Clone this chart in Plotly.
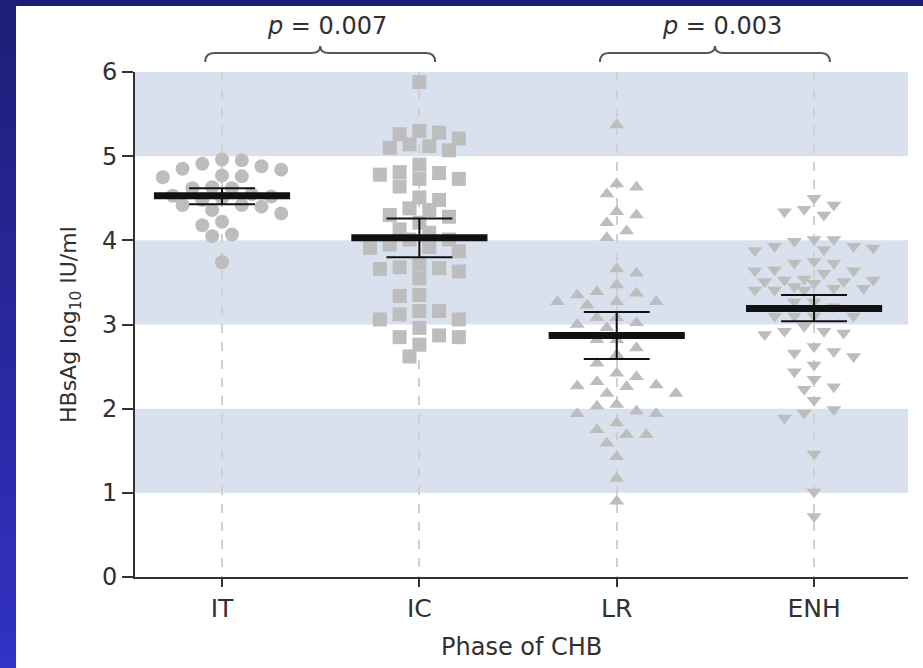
import plotly.graph_objects as go

# ---------------- data ----------------
categories = ["IT", "IC", "LR", "ENH"]

it_vals = [4.95, 4.88, 4.84, 4.85, 4.91, 4.96, 4.76, 4.77, 4.75, 4.63, 4.62, 4.62,
           4.55, 4.53, 4.52, 4.50, 4.48, 4.42, 4.40, 4.32, 4.36, 4.42, 4.22, 4.18,
           4.07, 4.05, 3.74]
ic_vals = [5.88, 5.28, 5.30, 5.21, 5.26, 5.12, 5.07, 5.10, 5.14, 4.90, 4.81, 4.73,
           4.73, 4.78, 4.80, 4.64, 4.48, 4.51, 4.38, 4.30, 4.36, 4.28, 4.21, 4.13,
           4.09, 4.01, 3.95, 4.01, 3.92, 3.87, 3.91, 3.72, 3.66, 3.63, 3.67, 3.68,
           3.55, 3.34, 3.35, 3.16, 3.16, 3.12, 3.06, 3.06, 2.96, 2.85, 2.87, 2.85,
           2.76, 2.62]
lr_vals = [5.37, 4.67, 4.63, 4.55, 4.30, 4.34, 4.21, 4.11, 4.03, 3.61, 3.66, 3.47,
           3.37, 3.35, 3.39, 3.27, 3.27, 3.27, 3.23, 3.08, 3.08, 3.00, 3.02, 2.96,
           2.82, 2.82, 2.72, 2.64, 2.54, 2.42, 2.38, 2.27, 2.32, 2.28, 2.26, 2.18,
           2.18, 2.03, 2.05, 1.94, 1.94, 1.97, 1.83, 1.75, 1.69, 1.69, 1.59, 1.43,
           1.17, 0.90]
enh_vals = [4.50, 4.42, 4.34, 4.30, 4.37, 4.01, 3.93, 4.01, 3.93, 3.99, 3.91, 3.88,
            3.89, 3.75, 3.73, 3.73, 3.64, 3.61, 3.65, 3.64, 3.54, 3.51, 3.49, 3.51,
            3.53, 3.53, 3.41, 3.41, 3.45, 3.43, 3.43, 3.41, 3.27, 3.21, 3.27, 3.10,
            3.10, 3.10, 3.10, 2.98, 2.92, 2.88, 2.90, 2.92, 2.68, 2.62, 2.66, 2.74,
            2.52, 2.44, 2.35, 2.23, 2.26, 2.10, 1.95, 1.89, 1.99, 1.46, 1.01, 0.72]

means = [4.53, 4.03, 2.87, 3.19]
sem_hi = [4.62, 4.26, 3.15, 3.35]
sem_lo = [4.43, 3.80, 2.59, 3.04]

comparisons = [(0, 1, "0.007"), (2, 3, "0.003")]

y_ticks = [0, 1, 2, 3, 4, 5, 6]
bands = [(1, 2), (3, 4), (5, 6)]

# ---------------- style / layout constants ----------------
W, H = 923, 668
ML, MR, MT, MB = 135, 15, 72, 91
PW, PH = W - ML - MR, H - MT - MB
XR = [-0.441, 3.476]
YR = [0, 6]
SLOT = 0.05          # horizontal slot width (category units)
COLL = 14.0          # collision distance in px for the swarm layout
MAXS = 6
FONT = "DejaVu Sans, Verdana, sans-serif"
TXT = "#303030"
GREY = "#BDBDBD"

X_PX = PW / (XR[1] - XR[0])
Y_PX = PH / (YR[1] - YR[0])


def px2paper_x(px):
    return (px - ML) / PW


def py2paper_y(py):
    return (H - MB - py) / PH


def swarm_offsets(vals):
    """Greedy beeswarm on a quantised horizontal grid."""
    order = sorted(range(len(vals)), key=lambda i: -vals[i])
    placed = []
    offs = [0] * len(vals)
    sign = 1
    sx = SLOT * X_PX
    for i in order:
        y = vals[i] * Y_PX
        cands = [0]
        for k in range(1, MAXS + 1):
            cands += [sign * k, -sign * k]
        best, best_d = None, -1
        for c in cands:
            dmin = min([((c - s) * sx) ** 2 + (y - yy) ** 2 for s, yy in placed] or [1e9]) ** 0.5
            if dmin >= COLL:
                best = c
                break
            if dmin > best_d:
                best_d, best = dmin, c
        offs[i] = best
        placed.append((best, y))
        if best != 0:
            sign = -sign
    return offs


fig = go.Figure()

groups = [(it_vals, "circle", 14), (ic_vals, "square", 14),
          (lr_vals, "triangle-up", 13), (enh_vals, "triangle-down", 13)]
for ci, (vals, sym, size) in enumerate(groups):
    offs = swarm_offsets(vals)
    fig.add_trace(go.Scatter(
        x=[ci + o * SLOT for o in offs], y=vals, mode="markers",
        marker=dict(symbol=sym, size=size, color=GREY, line=dict(width=0)),
        showlegend=False, hoverinfo="y"))

# mean lines
for ci, m in enumerate(means):
    fig.add_trace(go.Scatter(x=[ci - 0.345, ci + 0.345], y=[m, m], mode="lines",
                             line=dict(color="#111111", width=7),
                             showlegend=False, hoverinfo="skip"))
# SEM whiskers
for ci in range(len(categories)):
    cw = 0.167
    xs = [ci, ci, None, ci - cw, ci + cw, None, ci - cw, ci + cw]
    ys = [sem_lo[ci], sem_hi[ci], None, sem_hi[ci], sem_hi[ci], None, sem_lo[ci], sem_lo[ci]]
    fig.add_trace(go.Scatter(x=xs, y=ys, mode="lines",
                             line=dict(color="#111111", width=2),
                             showlegend=False, hoverinfo="skip"))

shapes = []
# blue frame (top strip + left gradient strip)
nstrip = 40
c0 = (30, 30, 120)
c1 = (50, 50, 196)
for k in range(nstrip):
    t = k / (nstrip - 1)
    col = "rgb(%d,%d,%d)" % tuple(int(a + (b - a) * t) for a, b in zip(c0, c1))
    shapes.append(dict(type="rect", xref="paper", yref="paper", layer="below",
                       x0=px2paper_x(0), x1=px2paper_x(16),
                       y0=py2paper_y(H * (k + 1) / nstrip + 2), y1=py2paper_y(H * k / nstrip),
                       fillcolor=col, line=dict(width=0)))
shapes.append(dict(type="rect", xref="paper", yref="paper", layer="below",
                   x0=px2paper_x(0), x1=px2paper_x(W), y0=py2paper_y(6), y1=py2paper_y(0),
                   fillcolor="#1E1E78", line=dict(width=0)))
# horizontal bands
for b0, b1 in bands:
    shapes.append(dict(type="rect", xref="paper", yref="y", layer="below",
                       x0=0, x1=1, y0=b0, y1=b1, fillcolor="#DAE1EE", line=dict(width=0)))

# braces
yl, ym, yt = py2paper_y(62), py2paper_y(53), py2paper_y(46)
e = 0.045
annotations = []
for a, b, ptxt in comparisons:
    xa, xb = a - 0.085, b + 0.08
    xc = (xa + xb) / 2
    path = (f"M{xa},{yl} Q{xa},{ym} {xa+e},{ym} L{xc-e},{ym} Q{xc},{ym} {xc},{yt} "
            f"Q{xc},{ym} {xc+e},{ym} L{xb-e},{ym} Q{xb},{ym} {xb},{yl}")
    shapes.append(dict(type="path", xref="x", yref="paper", path=path,
                       line=dict(color="#555555", width=2)))
    annotations.append(dict(x=xc + 0.035, y=py2paper_y(26), xref="x", yref="paper",
                            text=f"<i>p</i> = {ptxt}", showarrow=False,
                            xanchor="center", yanchor="middle",
                            font=dict(family=FONT, size=24, color=TXT)))

annotations.append(dict(x=px2paper_x(70), y=py2paper_y(325), xref="paper", yref="paper",
                        text="HBsAg log<sub>10</sub> IU/ml", textangle=-90, showarrow=False,
                        xanchor="center", yanchor="middle",
                        font=dict(family=FONT, size=22, color=TXT)))
annotations.append(dict(x=0.5, y=py2paper_y(647), xref="paper", yref="paper",
                        text="Phase of CHB", showarrow=False,
                        xanchor="center", yanchor="middle",
                        font=dict(family=FONT, size=24, color=TXT)))

fig.update_layout(
    width=W, height=H, autosize=False,
    margin=dict(l=ML, r=MR, t=MT, b=MB, pad=0),
    paper_bgcolor="white", plot_bgcolor="white",
    shapes=shapes, annotations=annotations,
    xaxis=dict(range=XR, tickmode="array", tickvals=list(range(len(categories))),
               ticktext=categories, showline=True, linecolor="#333333", linewidth=2,
               ticks="outside", ticklen=8, tickwidth=2, tickcolor="#333333",
               showgrid=True, gridcolor="#D0D0D0", griddash="dash", gridwidth=1.5,
               zeroline=False, tickfont=dict(family=FONT, size=25, color=TXT),
               fixedrange=True),
    yaxis=dict(range=YR, tickmode="array", tickvals=y_ticks,
               showline=True, linecolor="#333333", linewidth=2,
               ticks="outside", ticklen=11, tickwidth=2, tickcolor="#333333",
               showgrid=False, zeroline=False,
               tickfont=dict(family=FONT, size=24, color=TXT), fixedrange=True),
    showlegend=False,
)

fig.write_html("out.html")
